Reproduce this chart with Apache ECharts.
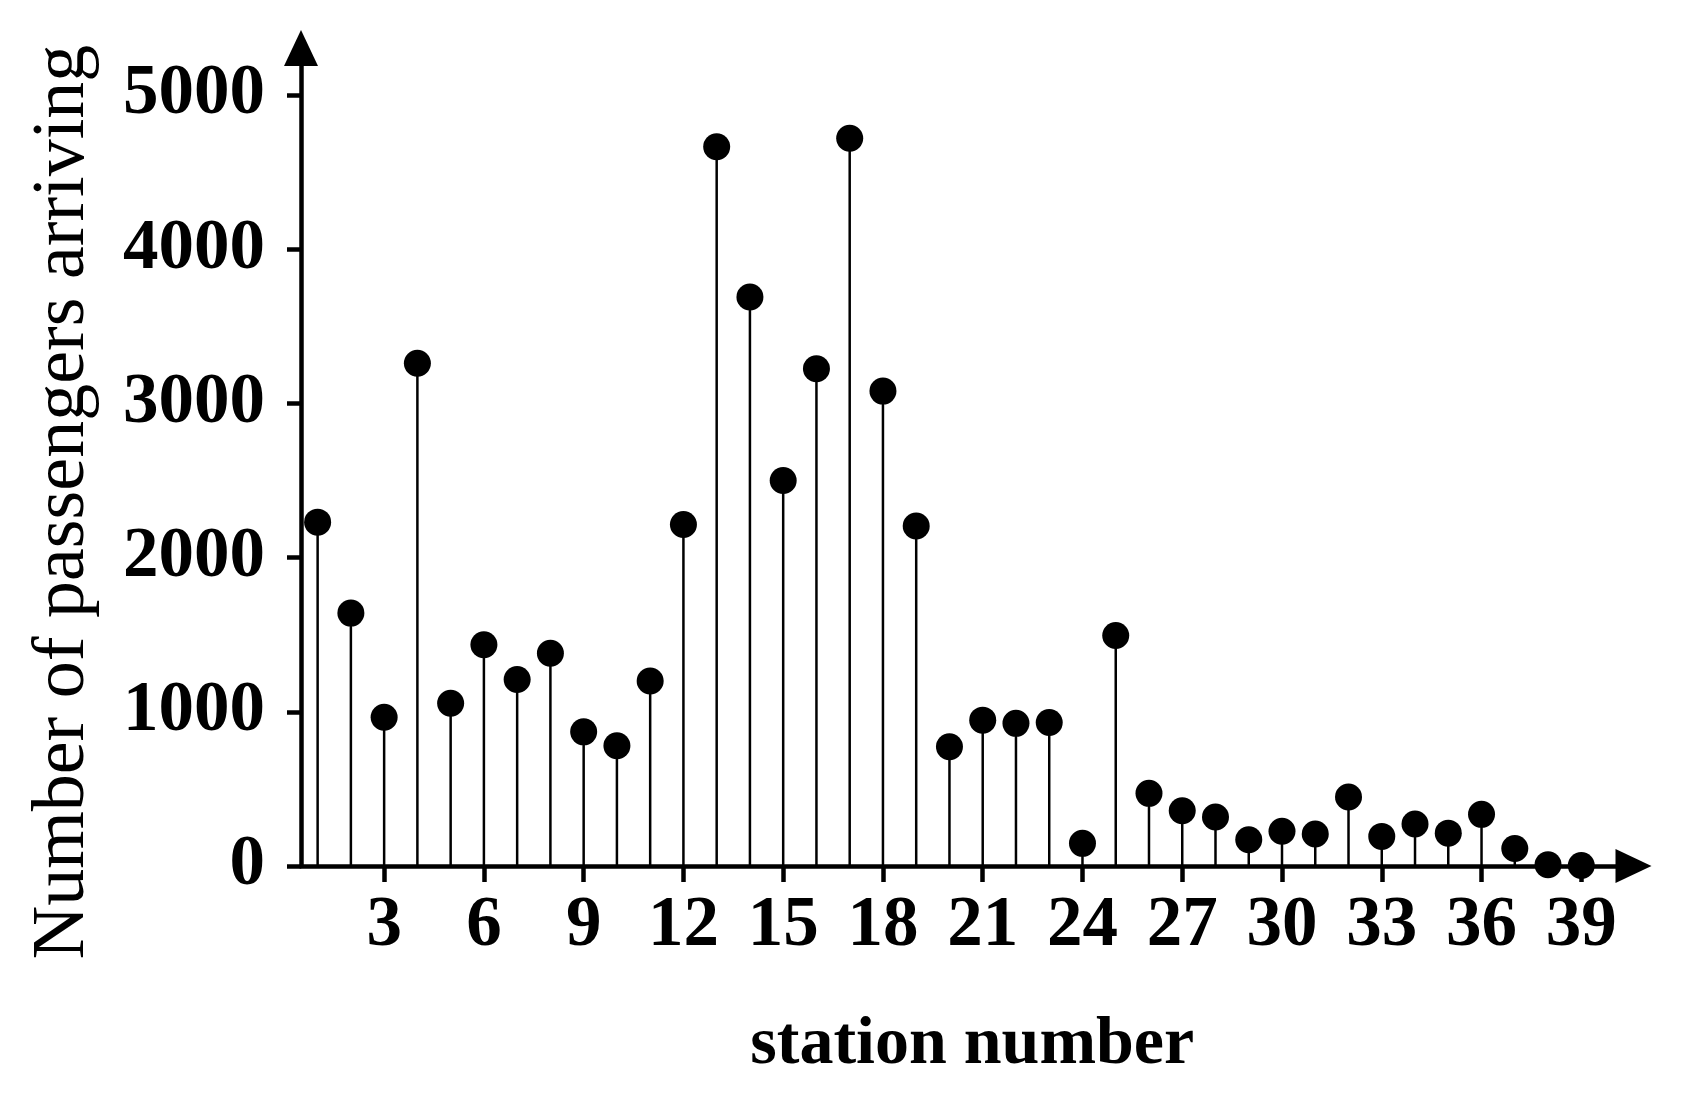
<!DOCTYPE html>
<html>
<head>
<meta charset="utf-8">
<title>Passengers arriving by station</title>
<script src="https://cdn.jsdelivr.net/npm/echarts@6/dist/echarts.min.js"></script>
<style>
  html, body { margin: 0; padding: 0; background: #fff; }
  #chart { width: 1685px; height: 1107px; }
</style>
</head>
<body>
<div id="chart"></div>
<script>
// station numbers 1..39 and passengers arriving at each
const stations = [1, 2, 3, 4, 5, 6, 7, 8, 9, 10, 11, 12, 13, 14, 15, 16, 17, 18, 19, 20,
  21, 22, 23, 24, 25, 26, 27, 28, 29, 30, 31, 32, 33, 34, 35, 36, 37, 38, 39];
const passengers = [2230, 1640, 965, 3260, 1055, 1435, 1210, 1380, 870, 780,
  1200, 2215, 4665, 3690, 2500, 3225, 4720, 3080, 2205, 773,
  946, 925, 931, 147, 1495, 471, 358, 318, 170, 225,
  208, 448, 192, 272, 213, 335, 113, 8, 3];
const xTicks = [3, 6, 9, 12, 15, 18, 21, 24, 27, 30, 33, 36, 39];
const yTicks = [0, 1000, 2000, 3000, 4000, 5000];

let points = [];
for (let i = 0; i < stations.length; i++) {
  points.push([stations[i], passengers[i]]);
}

let myChart = echarts.init(document.getElementById('chart'));
let axisFont = 'Liberation Serif';
let option = {
  animation: false,
  grid: {
    left: 301,
    right: 51.5,
    top: 48,
    bottom: 241,
    outerBoundsMode: 'none'
  },
  xAxis: {
    type: 'value',
    min: 0.5,
    max: 40.57,
    name: 'station number',
    nameLocation: 'middle',
    nameGap: 145,
    nameTextStyle: {
      fontFamily: axisFont,
      fontWeight: 'bold',
      fontSize: 68,
      color: '#000',
      padding: [0, 0, 0, 10]
    },
    axisLine: {
      symbol: ['none', 'triangle'],
      symbolSize: [34, 36],
      lineStyle: { color: '#000', width: 4.5 }
    },
    axisTick: {
      customValues: xTicks,
      length: 16,
      lineStyle: { color: '#000', width: 4.5 }
    },
    axisLabel: {
      customValues: xTicks,
      margin: 25,
      fontFamily: axisFont,
      fontWeight: 'bold',
      fontSize: 71,
      color: '#000'
    },
    splitLine: { show: false }
  },
  yAxis: {
    type: 'value',
    min: 0,
    max: 5305,
    name: 'Number of passengers arriving',
    nameLocation: 'middle',
    nameGap: 200,
    nameTextStyle: {
      fontFamily: axisFont,
      fontSize: 74,
      color: '#000',
      padding: [0, 90, 0, 0]
    },
    axisLine: {
      symbol: ['none', 'triangle'],
      symbolSize: [34, 36],
      lineStyle: { color: '#000', width: 4.5 }
    },
    axisTick: {
      customValues: yTicks,
      length: 14,
      lineStyle: { color: '#000', width: 4.5 }
    },
    axisLabel: {
      customValues: yTicks,
      margin: 36,
      formatter: function (v) { return String(v); },
      fontFamily: axisFont,
      fontWeight: 'bold',
      fontSize: 71,
      color: '#000'
    },
    splitLine: { show: false }
  },
  series: [
    {
      // stems
      type: 'bar',
      data: points,
      barWidth: 2.5,
      itemStyle: { color: '#000' },
      silent: true
    },
    {
      // dots on top of the stems
      type: 'scatter',
      data: points,
      symbol: 'circle',
      symbolSize: 27,
      itemStyle: { color: '#000', opacity: 1 },
      z: 3
    }
  ]
};
myChart.setOption(option);
</script>
</body>
</html>
